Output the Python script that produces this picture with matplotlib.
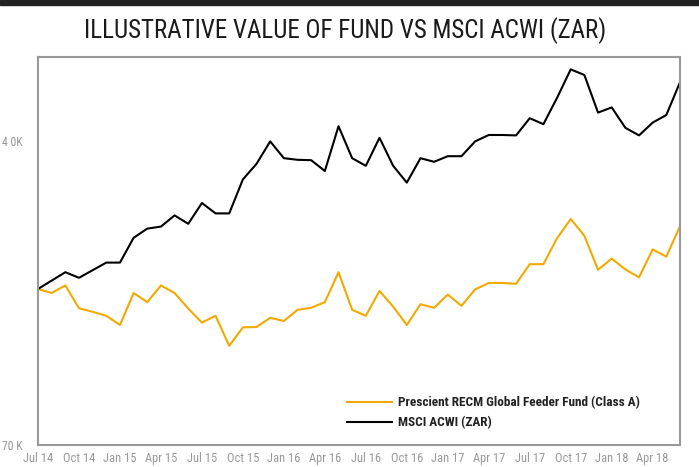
import numpy as np
import matplotlib
matplotlib.use("Agg")
import matplotlib.pyplot as plt

# monthly, Jul 2014 .. Jun 2018 (index values, both start at 100)
months = ["Jul 14", "Aug 14", "Sep 14", "Oct 14", "Nov 14", "Dec 14",
          "Jan 15", "Feb 15", "Mar 15", "Apr 15", "May 15", "Jun 15",
          "Jul 15", "Aug 15", "Sep 15", "Oct 15", "Nov 15", "Dec 15",
          "Jan 16", "Feb 16", "Mar 16", "Apr 16", "May 16", "Jun 16",
          "Jul 16", "Aug 16", "Sep 16", "Oct 16", "Nov 16", "Dec 16",
          "Jan 17", "Feb 17", "Mar 17", "Apr 17", "May 17", "Jun 17",
          "Jul 17", "Aug 17", "Sep 17", "Oct 17", "Nov 17", "Dec 17",
          "Jan 18", "Feb 18", "Mar 18", "Apr 18", "May 18", "Jun 18"]

fund = [100.0, 99.0, 100.9, 95.2, 94.3, 93.3, 91.0, 99.0, 96.7, 100.9,
        99.0, 95.1, 91.6, 93.3, 85.8, 90.4, 90.5, 92.8, 92.0, 94.8,
        95.3, 96.7, 104.2, 94.8, 93.3, 99.5, 95.6, 91.0, 96.2, 95.3,
        98.6, 95.8, 99.9, 101.5, 101.5, 101.3, 106.2, 106.2, 112.7, 117.5,
        113.3, 104.8, 107.6, 104.9, 102.9, 109.9, 108.1, 115.7]

msci = [100.0, 102.1, 104.2, 102.8, 104.7, 106.6, 106.6, 112.8, 115.1, 115.6,
        118.4, 116.3, 121.5, 118.9, 118.9, 127.4, 131.3, 136.9, 132.7, 132.3,
        132.2, 129.5, 140.7, 132.7, 130.8, 137.8, 130.8, 126.6, 132.7, 131.8,
        133.2, 133.2, 136.9, 138.5, 138.5, 138.4, 142.7, 141.2, 147.8, 154.9,
        153.5, 144.1, 145.4, 140.3, 138.4, 141.6, 143.5, 151.7]

xtick_labels = months[::3]
ytick_vals = [137, 61]
ytick_labels = ["4 0K", "70 K"]

NARROW = ["Roboto Condensed", "DejaVu Sans"]
ORANGE = "#F2A900"
GREY = "#999999"

fig = plt.figure(figsize=(6.99, 4.67), dpi=100)
# dark strip across the top
fig.patches.append(plt.Rectangle((0, 1 - 5 / 467), 1, 5 / 467, transform=fig.transFigure,
                                 color="#222222", zorder=0))
fig.text(0.494, 1 - 31 / 467, "ILLUSTRATIVE VALUE OF FUND VS MSCI ACWI (ZAR)",
         ha="center", va="center", fontsize=18, color="#1a1a1a", family=NARROW,
         fontstretch="condensed")

ax = fig.add_axes([38 / 699, 22 / 467, 642 / 699, 388 / 467])
x = np.arange(len(months))
ax.plot(x, fund, color=ORANGE, lw=1.5, label="Prescient RECM Global Feeder Fund (Class A)")
ax.plot(x, msci, color="black", lw=1.5, label="MSCI ACWI (ZAR)")

ax.set_xlim(0, len(months) - 1)
ax.set_ylim(61, 158)
ax.set_xticks(x[::3])
ax.set_xticklabels(xtick_labels, family=NARROW, fontsize=9, color=GREY, fontstretch="condensed")
ax.set_yticks(ytick_vals)
ax.set_yticklabels(ytick_labels, family=NARROW, fontsize=8.5, color=GREY, fontstretch="condensed")
ax.tick_params(axis="both", length=0)
ax.tick_params(axis="x", pad=5)
ax.tick_params(axis="y", pad=11)
for sp in ax.spines.values():
    sp.set_color(GREY)
    sp.set_linewidth(1.5)

leg = ax.legend(loc="lower left", bbox_to_anchor=(0.4626, 0.01), frameon=False,
                prop={"family": NARROW, "size": 9.5, "weight": "bold", "stretch": "condensed"},
                handlelength=3.4, handletextpad=0.45, labelspacing=0.5)
for t in leg.get_texts():
    t.set_color("#222222")

fig.savefig("out.png", dpi=100)
